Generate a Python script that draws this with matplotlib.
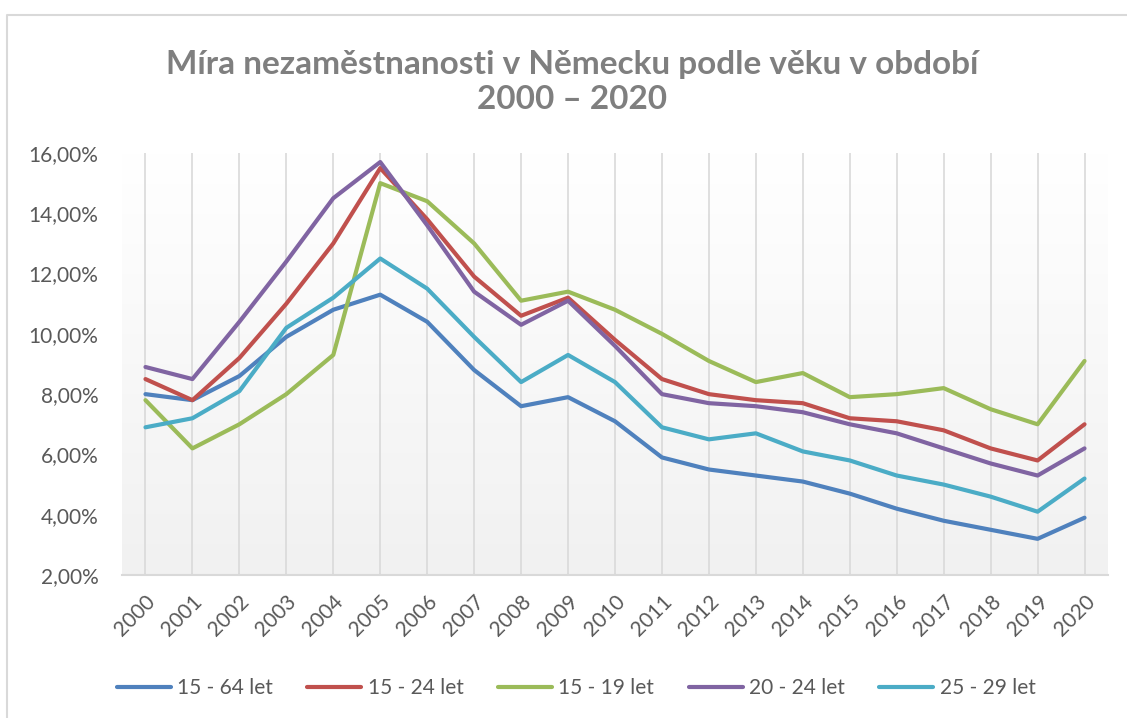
import matplotlib.pyplot as plt
import numpy as np
from matplotlib.lines import Line2D

# Data (unemployment rate, %).
years = [str(y) for y in range(2000, 2021)]
series_names = ['15 - 64 let', '15 - 24 let', '15 - 19 let', '20 - 24 let', '25 - 29 let']
age_15_64 = [8.0, 7.8, 8.6, 9.9, 10.8, 11.3, 10.4, 8.8, 7.6, 7.9, 7.1,
             5.9, 5.5, 5.3, 5.1, 4.7, 4.2, 3.8, 3.5, 3.2, 3.9]
age_15_24 = [8.5, 7.8, 9.2, 11.0, 13.0, 15.5, 13.8, 11.9, 10.6, 11.2, 9.8,
             8.5, 8.0, 7.8, 7.7, 7.2, 7.1, 6.8, 6.2, 5.8, 7.0]
age_15_19 = [7.8, 6.2, 7.0, 8.0, 9.3, 15.0, 14.4, 13.0, 11.1, 11.4, 10.8,
             10.0, 9.1, 8.4, 8.7, 7.9, 8.0, 8.2, 7.5, 7.0, 9.1]
age_20_24 = [8.9, 8.5, 10.4, 12.4, 14.5, 15.7, 13.6, 11.4, 10.3, 11.1, 9.6,
             8.0, 7.7, 7.6, 7.4, 7.0, 6.7, 6.2, 5.7, 5.3, 6.2]
age_25_29 = [6.9, 7.2, 8.1, 10.2, 11.2, 12.5, 11.5, 9.9, 8.4, 9.3, 8.4,
             6.9, 6.5, 6.7, 6.1, 5.8, 5.3, 5.0, 4.6, 4.1, 5.2]
colors = ['#4F81BD', '#C0504D', '#9BBB59', '#8064A2', '#4BACC6']

plt.rcParams['font.family'] = ['Lato', 'DejaVu Sans']

fig = plt.figure(figsize=(11.27, 7.18), dpi=100)
ax = fig.add_axes([122 / 1127, 1 - 575 / 718, (1108 - 122) / 1127, (575 - 153) / 718])

# Outer chart border (top and left edges visible).
fig.add_artist(Line2D([7 / 1127, 7 / 1127, 1.0], [0.0, 1 - 15 / 718, 1 - 15 / 718],
                      transform=fig.transFigure, color='#d9d9d9', lw=1.5))

# Plot area gradient: white at top, light gray at bottom.
grad = np.linspace(1.0, 0.0, 256).reshape(-1, 1)
top = np.array([1.0, 1.0, 1.0])
bot = np.array([0.945, 0.945, 0.945])
img = top * grad[..., None] + bot * (1 - grad[..., None])
ax.imshow(img, extent=[0, 1, 0, 1], transform=ax.transAxes, aspect='auto', zorder=0)

x = np.arange(len(years))
for vals, name, c in zip([age_15_64, age_15_24, age_15_19, age_20_24, age_25_29],
                         series_names, colors):
    ax.plot(x, vals, color=c, lw=3, label=name, zorder=3, solid_capstyle='round')

for xi in x:
    ax.axvline(xi, color='#d9d9d9', lw=1.2, zorder=1)

ax.set_xlim(-0.5, len(years) - 0.5)
ax.set_ylim(2, 16)
ax.set_yticks(np.arange(2, 17, 2))
ax.set_yticklabels([f'{v:.2f}'.replace('.', ',') + '%' for v in np.arange(2, 17, 2)])
ax.set_xticks(x)
ax.set_xticklabels(years, rotation=45, ha='right', rotation_mode='anchor')
ax.tick_params(axis='both', length=0, labelsize=15, colors='#595959')
ax.tick_params(axis='x', pad=12)
ax.tick_params(axis='y', pad=17)
for side in ['top', 'right', 'left']:
    ax.spines[side].set_visible(False)
ax.spines['bottom'].set_color('#d9d9d9')
ax.spines['bottom'].set_linewidth(1.5)

fig.text(0.508, 1 - 82 / 718, 'Míra nezaměstnanosti v Německu podle věku v období\n2000 – 2020',
         ha='center', va='center', fontsize=24, fontweight='bold', color='#7f7f7f',
         linespacing=1.25)

fig.legend(loc='center', bbox_to_anchor=(576 / 1127, 1 - 688 / 718), ncol=5, frameon=False,
           fontsize=15, labelcolor='#595959', handlelength=2.6, handletextpad=0.3,
           columnspacing=1.65)

fig.savefig('out.png', dpi=100)
